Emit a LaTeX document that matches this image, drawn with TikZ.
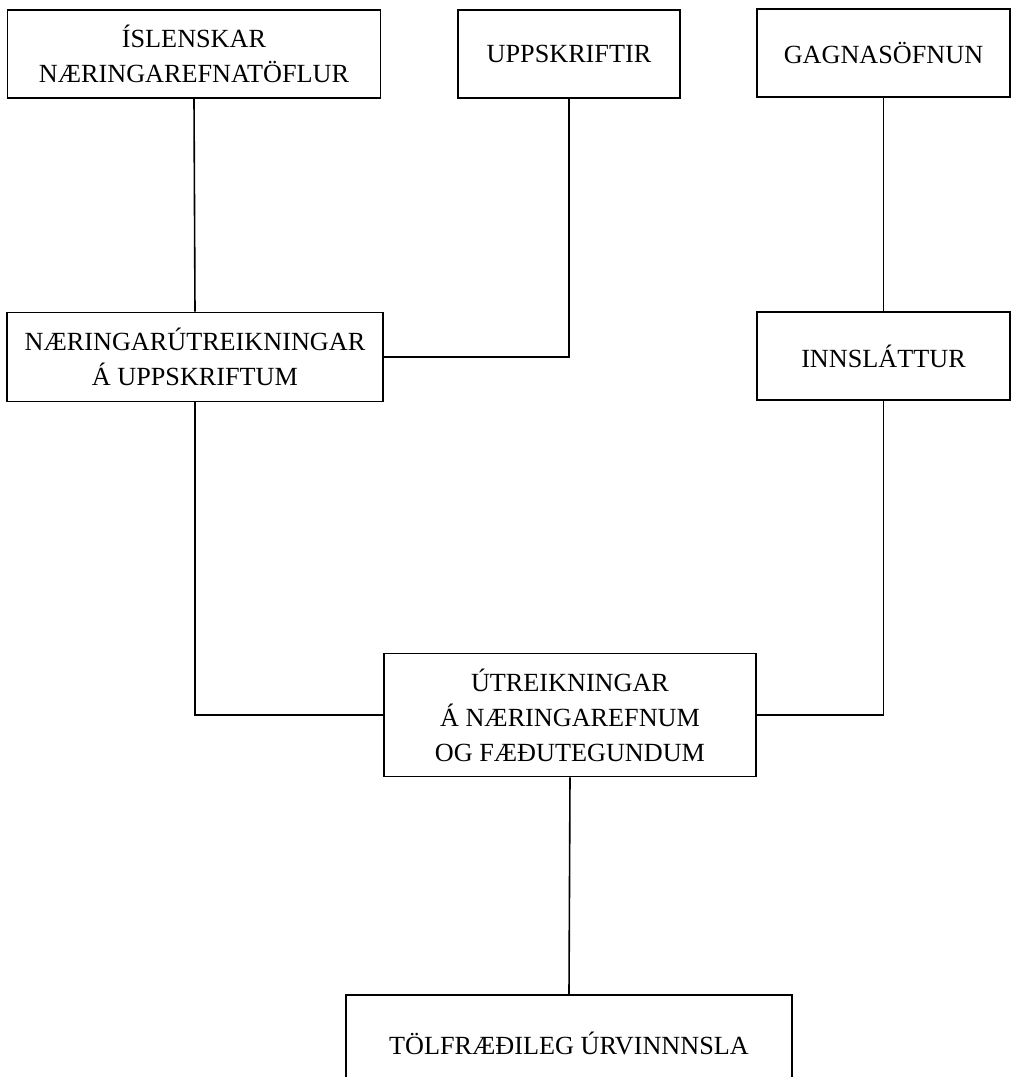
\documentclass[tikz,border=0pt]{standalone}
\usepackage{fontspec}
\setmainfont{Liberation Serif}
\begin{document}
\begin{tikzpicture}[x=0.5pt,y=-0.5pt,
  box/.style={draw,line width=0.9pt,rectangle,inner sep=0pt,align=center,
    font=\fontsize{13.1pt}{17.5pt}\selectfont},
  conn/.style={line width=0.8pt}]
\useasboundingbox (0,0) rectangle (1012,1077);
\node[box,minimum width=186.5pt,minimum height=44pt] (tofl) at (194,54) {ÍSLENSKAR\\NÆRINGAREFNATÖFLUR};
\node[box,minimum width=111pt,minimum height=44pt] (upp) at (569,54) {UPPSKRIFTIR};
\node[box,minimum width=126.5pt,minimum height=44pt] (gagn) at (883.5,53) {GAGNASÖFNUN};
\node[box,minimum width=188pt,minimum height=44.5pt] (naer) at (195,357) {NÆRINGARÚTREIKNINGAR\\Á UPPSKRIFTUM};
\node[box,minimum width=126.5pt,minimum height=44pt] (inns) at (883.5,356) {INNSLÁTTUR};
\node[box,minimum width=186pt,minimum height=61.5pt] (utr) at (570,715) {ÚTREIKNINGAR\\Á NÆRINGAREFNUM\\OG FÆÐUTEGUNDUM};
\node[box,minimum width=223pt,minimum height=48pt] (tolf) at (569,1043) {TÖLFRÆÐILEG ÚRVINNNSLA};
\draw[conn] (tofl.south) -- (naer.north);
\draw[conn] (upp.south) |- (naer.east);
\draw[conn] (gagn.south) -- (inns.north);
\draw[conn] (naer.south) |- (utr.west);
\draw[conn] (inns.south) |- (utr.east);
\draw[conn] (utr.south) -- (tolf.north);
\end{tikzpicture}
\end{document}
